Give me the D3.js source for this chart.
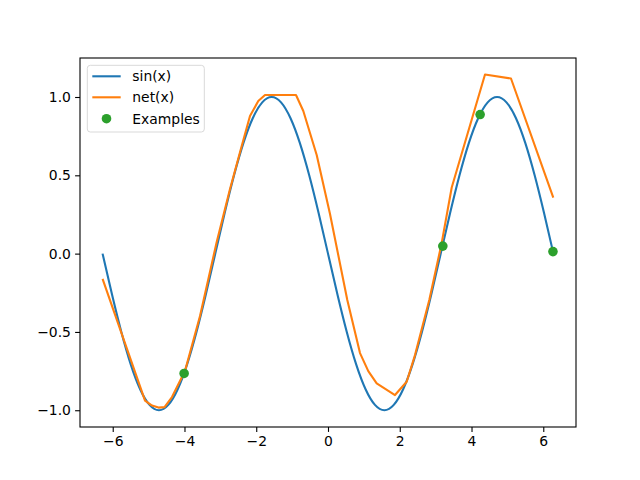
<!DOCTYPE html>
<html>
<head>
<meta charset="utf-8">
<script src="https://cdn.jsdelivr.net/npm/d3@7"></script>
<style>
  body { margin: 0; background: #fff; }
  text { font-family: "DejaVu Sans", sans-serif; }
</style>
</head>
<body>
<svg id="chart" width="640" height="480"></svg>
<script>
// sin(x) curve as plotted (sampled every pi/12 from -2pi to 2pi)
const sinX = [-6.2832,-6.0214,-5.7596,-5.4978,-5.2360,-4.9742,-4.7124,-4.4506,-4.1888,-3.9270,-3.6652,-3.4034,-3.1416,-2.8798,-2.6180,-2.3562,-2.0944,-1.8326,-1.5708,-1.3090,-1.0472,-0.7854,-0.5236,-0.2618,0,0.2618,0.5236,0.7854,1.0472,1.3090,1.5708,1.8326,2.0944,2.3562,2.6180,2.8798,3.1416,3.4034,3.6652,3.9270,4.1888,4.4506,4.7124,4.9742,5.2360,5.4978,5.7596,6.0214,6.2832];
const sinY = [0,-0.259,-0.5,-0.707,-0.866,-0.966,-1,-0.966,-0.866,-0.707,-0.5,-0.259,0,0.259,0.5,0.707,0.866,0.966,1,0.966,0.866,0.707,0.5,0.259,0,-0.259,-0.5,-0.707,-0.866,-0.966,-1,-0.966,-0.866,-0.707,-0.5,-0.259,0,0.259,0.5,0.707,0.866,0.966,1,0.966,0.866,0.707,0.5,0.259,0];
// net(x) piecewise linear output
const netX = [-6.283,-5.100,-4.905,-4.724,-4.557,-4.348,-3.986,-3.567,-3.102,-2.731,-2.405,-2.174,-1.943,-1.756,-0.892,-0.688,-0.502,-0.315,0.056,0.538,0.892,1.123,1.357,1.867,2.193,2.425,2.823,3.163,3.448,4.376,5.100,6.279];
const netY = [-0.161,-0.938,-0.970,-0.983,-0.980,-0.916,-0.750,-0.398,0.074,0.413,0.687,0.879,0.974,1.013,1.013,0.911,0.770,0.630,0.253,-0.296,-0.635,-0.750,-0.828,-0.903,-0.818,-0.648,-0.296,0.061,0.422,1.144,1.118,0.358];
// training examples
const exX = [-4.01, 3.20, 4.24, 6.27];
const exY = [-0.765, 0.048, 0.888, 0.013];
const xTicks = [-6,-4,-2,0,2,4,6];
const yTicks = [-1.0,-0.5,0.0,0.5,1.0];
const seriesNames = ["sin(x)", "net(x)", "Examples"];
const colors = ["#1f77b4", "#ff7f0e", "#2ca02c"];

const svg = d3.select("#chart");
const L = 80, R = 576, T = 58, B = 427;
const x = d3.scaleLinear().domain([-6.912, 6.912]).range([L, R]);
const y = d3.scaleLinear().domain([-1.107, 1.249]).range([B, T]);
const fmt = v => d3.format(".1f")(v).replace("-", "\u2212");
const fmtX = v => String(v).replace("-", "\u2212");

const sinLine = d3.line().x(d => x(d[0])).y(d => y(d[1])).curve(d3.curveNatural);
const netLine = d3.line().x(d => x(d[0])).y(d => y(d[1]));

svg.append("path")
  .datum(sinX.map((v, i) => [v, sinY[i]]))
  .attr("d", sinLine)
  .attr("fill", "none").attr("stroke", colors[0]).attr("stroke-width", 2.1);

svg.append("path")
  .datum(netX.map((v, i) => [v, netY[i]]))
  .attr("d", netLine)
  .attr("fill", "none").attr("stroke", colors[1]).attr("stroke-width", 2.1)
  .attr("stroke-linejoin", "round");

svg.selectAll(".ex").data(exX.map((v, i) => [v, exY[i]])).enter()
  .append("circle")
  .attr("cx", d => x(d[0])).attr("cy", d => y(d[1])).attr("r", 4.8)
  .attr("fill", colors[2]);

// frame
svg.append("rect").attr("x", L).attr("y", T).attr("width", R - L).attr("height", B - T)
  .attr("fill", "none").attr("stroke", "#000").attr("stroke-width", 1.1);

const xAxis = svg.append("g").attr("transform", `translate(0,${B})`)
  .call(d3.axisBottom(x).tickValues(xTicks).tickFormat(fmtX).tickSize(4.9).tickPadding(4.2));
const yAxis = svg.append("g").attr("transform", `translate(${L},0)`)
  .call(d3.axisLeft(y).tickValues(yTicks).tickFormat(fmt).tickSize(4.9).tickPadding(4.2));
[xAxis, yAxis].forEach(g => {
  g.select(".domain").remove();
  g.selectAll("line").attr("stroke", "#000").attr("stroke-width", 1.1);
  g.selectAll("text").attr("font-size", "13.9px").attr("fill", "#000")
    .attr("font-family", "DejaVu Sans, sans-serif");
});

// legend
const lg = svg.append("g");
lg.append("rect").attr("x", 87.3).attr("y", 65.3).attr("width", 117).attr("height", 66.7)
  .attr("rx", 3).attr("fill", "#fff").attr("fill-opacity", 0.8)
  .attr("stroke", "#d9d9d9").attr("stroke-width", 1);
const rows = [76.3, 97.3, 118.7];
seriesNames.forEach((name, i) => {
  if (i < 2) {
    lg.append("line").attr("x1", 92.3).attr("x2", 120.7).attr("y1", rows[i]).attr("y2", rows[i])
      .attr("stroke", colors[i]).attr("stroke-width", 2.1);
  } else {
    lg.append("circle").attr("cx", 106.5).attr("cy", rows[i]).attr("r", 4.8).attr("fill", colors[i]);
  }
  lg.append("text").attr("x", 132.3).attr("y", rows[i]).attr("dy", "0.36em")
    .attr("font-size", "13.9px").attr("fill", "#000").text(name);
});
</script>
</body>
</html>
